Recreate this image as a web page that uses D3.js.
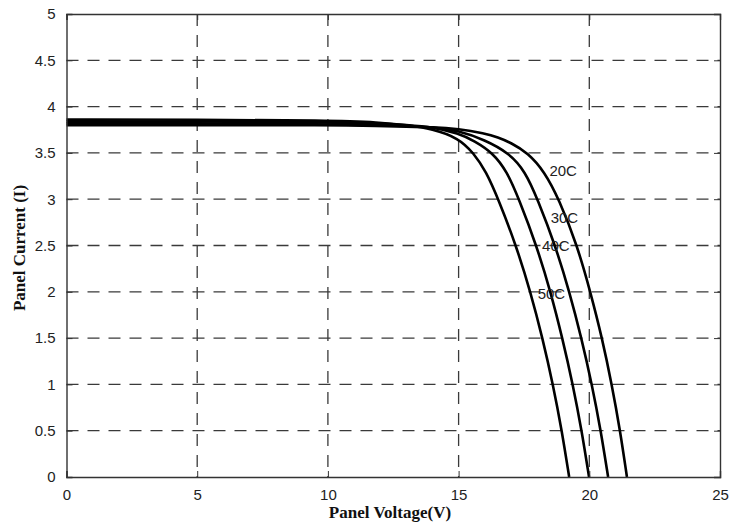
<!DOCTYPE html>
<html>
<head>
<meta charset="utf-8">
<script src="https://cdn.jsdelivr.net/npm/d3@7"></script>
<style>
  html, body { margin: 0; padding: 0; background: #fff; }
  svg { display: block; }
</style>
</head>
<body>
<svg id="chart" width="730" height="526"></svg>
<script>
// ---- data ----
const xTicks = [0, 5, 10, 15, 20, 25];
const yTicks = [0, 0.5, 1, 1.5, 2, 2.5, 3, 3.5, 4, 4.5, 5];
const yTickLabels = ["0", "0.5", "1", "1.5", "2", "2.5", "3", "3.5", "4", "4.5", "5"];

const seriesNames = ["20C", "30C", "40C", "50C"];

const v20 = [0, 5, 10, 12, 13, 14, 15, 16, 16.5, 17, 17.65, 18.28, 18.84, 19.54, 20.04, 20.49, 20.86, 21.18, 21.44];
const i20 = [3.80, 3.80, 3.80, 3.79, 3.78, 3.78, 3.76, 3.71, 3.67, 3.61, 3.5, 3.3, 3.0, 2.5, 2.0, 1.5, 1.0, 0.5, 0];

const v30 = [0, 5, 10, 12, 13, 14, 15, 16, 16.92, 17.55, 18.02, 18.70, 19.24, 19.70, 20.10, 20.44, 20.72];
const i30 = [3.82, 3.82, 3.81, 3.80, 3.79, 3.78, 3.74, 3.64, 3.5, 3.3, 3.0, 2.5, 2.0, 1.5, 1.0, 0.5, 0];

const v40 = [0, 5, 10, 12, 13, 14, 15, 15.6, 16.31, 16.85, 17.31, 17.98, 18.52, 18.97, 19.37, 19.71, 19.99];
const i40 = [3.84, 3.84, 3.83, 3.82, 3.80, 3.78, 3.71, 3.63, 3.5, 3.3, 3.0, 2.5, 2.0, 1.5, 1.0, 0.5, 0];

const v50 = [0, 5, 10, 12, 13, 14, 15, 15.57, 16.05, 16.52, 17.20, 17.75, 18.21, 18.61, 18.95, 19.23];
const i50 = [3.86, 3.86, 3.85, 3.83, 3.80, 3.76, 3.66, 3.5, 3.3, 3.0, 2.5, 2.0, 1.5, 1.0, 0.5, 0];

// label anchor points (voltage, current) for each series label
const labelV = [19.0, 19.05, 18.72, 18.55];
const labelI = [3.29, 2.79, 2.48, 1.97];

// ---- layout ----
const svg = d3.select("#chart");
const x = d3.scaleLinear().domain([0, 25]).range([66.5, 720]);
const y = d3.scaleLinear().domain([0, 5]).range([477, 14]);

const gridColor = "#3a3a3a";
const frameColor = "#333";
const tickFont = "'Liberation Sans', Arial, sans-serif";

// grid lines (dashed), skip those on the frame
const gx = svg.append("g");
gx.selectAll("line.vg").data(xTicks.filter(d => d > 0 && d < 25)).enter()
  .append("line")
  .attr("x1", d => x(d)).attr("x2", d => x(d))
  .attr("y1", y(5)).attr("y2", y(0))
  .attr("stroke", gridColor).attr("stroke-width", 1.3)
  .attr("stroke-dasharray", "12,9");
gx.selectAll("line.hg").data(yTicks.filter(d => d > 0 && d < 5)).enter()
  .append("line")
  .attr("x1", x(0)).attr("x2", x(25))
  .attr("y1", d => y(d)).attr("y2", d => y(d))
  .attr("stroke", gridColor).attr("stroke-width", 1.3)
  .attr("stroke-dasharray", "12,9");

// curves
const seriesV = [v20, v30, v40, v50];
const seriesI = [i20, i30, i40, i50];
const line = d3.line()
  .x(d => x(d[0])).y(d => y(d[1]))
  .curve(d3.curveBasis);

seriesNames.forEach((name, k) => {
  const pts = seriesV[k].map((v, j) => [v, seriesI[k][j]]);
  svg.append("path")
    .datum(pts)
    .attr("d", line)
    .attr("fill", "none")
    .attr("stroke", "#000")
    .attr("stroke-width", 2.6)
    .attr("stroke-linejoin", "round");
});

// series labels
seriesNames.forEach((name, k) => {
  svg.append("text")
    .attr("x", x(labelV[k]))
    .attr("y", y(labelI[k]))
    .attr("font-family", tickFont)
    .attr("font-size", 15)
    .attr("fill", "#222")
    .attr("text-anchor", "middle")
    .attr("dominant-baseline", "middle")
    .text(name);
});

// axes with inward ticks on all sides
const axBottom = d3.axisBottom(x).tickValues(xTicks).tickSize(-6).tickPadding(12).tickFormat(d3.format("d"));
const axTop = d3.axisTop(x).tickValues(xTicks).tickSize(-6).tickFormat("");
const axLeft = d3.axisLeft(y).tickValues(yTicks).tickSize(-6).tickPadding(11).tickFormat((d, i) => yTickLabels[i]);
const axRight = d3.axisRight(y).tickValues(yTicks).tickSize(-6).tickFormat("");

function styleAxis(g) {
  g.select(".domain").attr("stroke", frameColor).attr("stroke-width", 1.4);
  g.selectAll(".tick line").attr("stroke", frameColor).attr("stroke-width", 1);
  g.selectAll(".tick text")
    .attr("font-family", tickFont).attr("font-size", 15).attr("fill", "#222");
}

svg.append("g").attr("transform", `translate(0,${y(0)})`).call(axBottom).call(styleAxis);
svg.append("g").attr("transform", `translate(0,${y(5)})`).call(axTop).call(styleAxis);
svg.append("g").attr("transform", `translate(${x(0)},0)`).call(axLeft).call(styleAxis);
svg.append("g").attr("transform", `translate(${x(25)},0)`).call(axRight).call(styleAxis);

// axis titles
svg.append("text")
  .attr("x", 390).attr("y", 518)
  .attr("text-anchor", "middle")
  .attr("font-family", "'Liberation Serif', 'Times New Roman', serif")
  .attr("font-weight", "bold")
  .attr("font-size", 17)
  .attr("fill", "#111")
  .text("Panel Voltage(V)");

svg.append("text")
  .attr("transform", "translate(25,248) rotate(-90)")
  .attr("text-anchor", "middle")
  .attr("font-family", "'Liberation Serif', 'Times New Roman', serif")
  .attr("font-weight", "bold")
  .attr("font-size", 17)
  .attr("fill", "#111")
  .text("Panel Current (I)");
</script>
</body>
</html>
